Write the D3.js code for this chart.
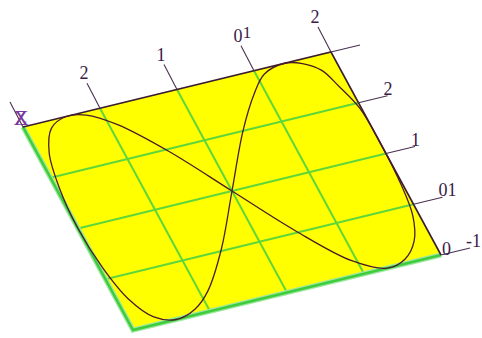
<!DOCTYPE html>
<html>
<head>
<meta charset="utf-8">
<script src="https://cdn.jsdelivr.net/npm/d3@7"></script>
<style>
  body { margin: 0; background: #fff; }
  svg { display: block; }
  text { font-family: "Liberation Serif", "DejaVu Serif", serif; }
</style>
</head>
<body>
<div id="chart"></div>
<script>
const width_chart = 482;
const height_chart = 338;

// data (x along top edge, y along right edge, both -1..1)
const x_ticks = [-1, -0.5, 0, 0.5, 1];
const y_ticks = [1, 0.5, 0, -0.5, -1];
const top_labels = ["", "2", "1", "0", "2"];
const top_labels_over = ["", "", "", "1", ""];
const right_labels = ["", "2", "1", "01", "-1"];
const corner_label = "0";
const axis_marks = ["X", "Z"];

// curve points
const curve_x = [0, 0.25, 0.43, 0.55, 0.70, 0.80, 0.89, 0.94, 0.99, 1.00, 0.99, 0.96, 0.89, 0.78, 0.65, 0.47, 0.24,
                 0, -0.24, -0.45, -0.60, -0.72, -0.84, -0.93, -0.98, -1.00, -0.98, -0.93, -0.84, -0.72, -0.58, -0.45, -0.24];
const curve_y = [0, 0.50, 0.80, 0.95, 1.00, 0.96, 0.86, 0.68, 0.45, 0.10, -0.30, -0.60, -0.82, -0.96, -1.00, -0.86, -0.48,
                 0, 0.48, 0.82, 0.97, 1.00, 0.93, 0.72, 0.40, 0.00, -0.40, -0.72, -0.93, -1.00, -0.95, -0.82, -0.48];

// plane frame: top-left corner and the two edge vectors
const origin = [23, 127];
const edge_a = [308, -75];
const edge_b = [110, 203];

const u = d3.scaleLinear().domain([-1, 1]).range([0, 1]);
const v = d3.scaleLinear().domain([1, -1]).range([0, 1]);

function proj(x, y) {
  const a = u(x), b = v(y);
  return [origin[0] + a * edge_a[0] + b * edge_b[0],
          origin[1] + a * edge_a[1] + b * edge_b[1]];
}

const svg = d3.select("#chart")
  .append("svg")
  .attr("width", width_chart)
  .attr("height", height_chart);

const line = d3.line();

// yellow plane
svg.append("path")
  .attr("d", line([proj(-1, 1), proj(1, 1), proj(1, -1), proj(-1, -1)]) + "Z")
  .attr("fill", "#ffff00");

// green grid
x_ticks.slice(1, -1).forEach(function (x) {
  svg.append("path")
    .attr("d", line([proj(x, 1), proj(x, -1)]))
    .attr("stroke", "#5fd63a").attr("stroke-width", 2).attr("fill", "none");
});
y_ticks.slice(1, -1).forEach(function (y) {
  svg.append("path")
    .attr("d", line([proj(-1, y), proj(1, y)]))
    .attr("stroke", "#5fd63a").attr("stroke-width", 2).attr("fill", "none");
});

// left and bottom border
svg.append("path")
  .attr("d", line([proj(-1, 1), proj(-1, -1), proj(1, -1)]))
  .attr("stroke", "#9ee89e").attr("stroke-width", 5).attr("fill", "none");
svg.append("path")
  .attr("d", line([proj(-1, 1), proj(-1, -1), proj(1, -1)]))
  .attr("stroke", "#3ccc3c").attr("stroke-width", 2.5).attr("fill", "none");

// top and right edges
svg.append("path")
  .attr("d", line([proj(-1, 1), proj(1, 1), proj(1, -1)]))
  .attr("stroke", "#3a1e30").attr("stroke-width", 1.6).attr("fill", "none");

const tick_top = [-13, -25];
const tick_right = [29, -7];

// top ticks and labels
x_ticks.forEach(function (x, i) {
  const p = proj(x, 1);
  const e = [p[0] + tick_top[0], p[1] + tick_top[1]];
  svg.append("path").attr("d", line([p, e]))
    .attr("stroke", "#4a3050").attr("stroke-width", 1.1).attr("fill", "none");
  svg.append("text")
    .attr("x", e[0] - 3).attr("y", e[1] - 4)
    .attr("text-anchor", "middle")
    .attr("font-size", 18)
    .attr("fill", "#3a1a48")
    .text(top_labels[i]);
  svg.append("text")
    .attr("x", e[0] + 6).attr("y", e[1] - 8)
    .attr("text-anchor", "middle")
    .attr("font-size", 17)
    .attr("fill", "#3a1a48")
    .text(top_labels_over[i]);
});

// right ticks and labels
y_ticks.forEach(function (y, i) {
  const p = proj(1, y);
  const e = [p[0] + tick_right[0], p[1] + tick_right[1]];
  svg.append("path").attr("d", line([p, e]))
    .attr("stroke", "#4a3050").attr("stroke-width", 1.1).attr("fill", "none");
  svg.append("text")
    .attr("x", e[0] - 4).attr("y", e[1] - 1)
    .attr("text-anchor", "start")
    .attr("font-size", 18)
    .attr("fill", "#3a1a48")
    .text(right_labels[i]);
});

// corner label
const c = proj(1, -1);
svg.append("text")
  .attr("x", c[0] + 1).attr("y", c[1])
  .attr("font-size", 18)
  .attr("fill", "#3a1a48")
  .text(corner_label);

// axis mark at top-left corner
const o = proj(-1, 1);
axis_marks.forEach(function (m) {
  svg.append("text")
    .attr("x", o[0] - 2).attr("y", o[1] - 2)
    .attr("text-anchor", "middle")
    .attr("font-size", 21)
    .attr("fill", "#7a3a9a")
    .text(m);
});

// the curve
const pts = curve_x.map(function (x, i) { return proj(x, curve_y[i]); });
svg.append("path")
  .attr("d", d3.line().curve(d3.curveCatmullRomClosed)(pts))
  .attr("stroke", "#4a1c2c").attr("stroke-width", 1.3).attr("fill", "none");
</script>
</body>
</html>
